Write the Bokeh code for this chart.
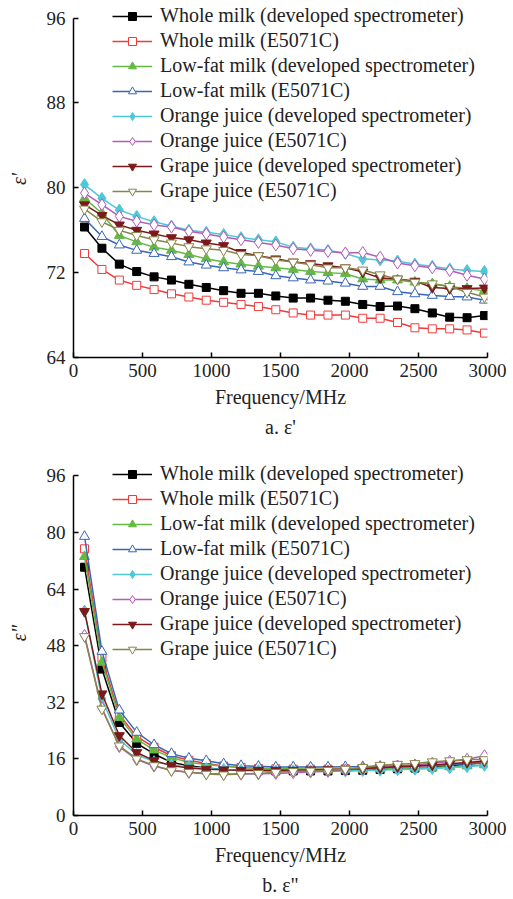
from bokeh.plotting import figure
from bokeh.layouts import column
from bokeh.models import Legend, LegendItem, Title, FixedTicker, Range1d
from bokeh.embed import file_html
from bokeh.resources import INLINE

freq = [80, 206, 332, 458, 584, 710, 836, 962, 1088, 1214, 1340, 1466,
        1592, 1718, 1844, 1970, 2096, 2222, 2348, 2474, 2600, 2726, 2852, 2978]

names = ["Whole milk (developed spectrometer)", "Whole milk (E5071C)",
         "Low-fat milk (developed spectrometer)", "Low-fat milk (E5071C)",
         "Orange juice (developed spectrometer)", "Orange juice (E5071C)",
         "Grape juice (developed spectrometer)", "Grape juice (E5071C)"]

# a. epsilon'
eps1_whole_dev = [76.3, 74.3, 72.8, 72.1, 71.6, 71.3, 70.9, 70.6, 70.3, 70.05, 70.05, 69.8,
                  69.6, 69.6, 69.4, 69.3, 69.0, 68.8, 68.85, 68.6, 68.2, 67.8, 67.75, 67.95]
eps1_whole_e = [73.8, 72.3, 71.3, 70.8, 70.4, 70.0, 69.7, 69.4, 69.2, 69.0, 68.8, 68.5,
                68.2, 68.0, 68.0, 68.0, 67.7, 67.7, 67.3, 66.8, 66.7, 66.7, 66.6, 66.3]
eps1_low_dev = [79.0, 77.6, 75.5, 74.9, 74.4, 74.1, 73.7, 73.3, 73.0, 72.8, 72.6, 72.45,
                72.3, 72.1, 72.0, 71.9, 71.4, 71.3, 71.3, 71.1, 70.95, 70.7, 70.5, 70.3]
eps1_low_e = [77.1, 75.4, 74.6, 74.1, 73.8, 73.5, 73.0, 72.7, 72.45, 72.25, 72.1, 71.7,
              71.5, 71.3, 71.2, 71.0, 70.7, 70.7, 70.2, 70.0, 69.85, 69.75, 69.7, 69.4]
eps1_orange_dev = [80.3, 79.0, 77.9, 77.3, 76.8, 76.4, 76.0, 75.8, 75.6, 75.3, 75.1, 74.9,
                   74.4, 74.25, 74.1, 73.8, 73.3, 73.2, 73.1, 72.8, 72.6, 72.35, 72.2, 72.1]
eps1_orange_e = [79.5, 78.4, 77.3, 76.85, 76.5, 76.3, 75.9, 75.65, 75.35, 75.1, 74.85, 74.6,
                 74.25, 74.1, 74.0, 73.85, 73.9, 73.45, 72.9, 72.65, 72.45, 72.2, 71.75, 71.4]
eps1_grape_dev = [78.4, 77.4, 76.5, 76.0, 75.65, 75.3, 75.1, 74.8, 74.55, 73.9, 73.6, 73.3,
                  73.0, 72.85, 72.65, 72.45, 72.05, 71.5, 71.4, 71.2, 70.6, 70.5, 70.5, 70.55]
eps1_grape_e = [78.0, 76.8, 76.0, 75.5, 75.1, 74.8, 74.45, 74.25, 74.1, 73.7, 73.6, 73.2,
                73.0, 72.75, 72.45, 72.45, 72.25, 71.8, 71.4, 71.1, 70.95, 70.7, 70.15, 69.7]

# b. epsilon''
eps2_whole_dev = [70.2, 41.4, 26.3, 20.4, 17.4, 15.0, 14.1, 13.4, 13.0, 12.8, 12.7, 12.6,
                  12.6, 12.6, 12.6, 12.7, 12.8, 13.0, 13.2, 13.4, 13.7, 14.1, 14.5, 15.0]
eps2_whole_e = [75.4, 44.5, 28.5, 22.3, 19.3, 16.9, 15.6, 14.7, 14.0, 13.6, 13.3, 13.2,
                13.1, 13.1, 13.1, 13.2, 13.3, 13.5, 13.7, 13.9, 14.2, 14.5, 14.8, 15.0]
eps2_low_dev = [73.2, 43.3, 27.7, 21.6, 18.5, 16.4, 15.0, 14.4, 13.9, 13.6, 13.4, 13.3,
                13.2, 13.1, 13.1, 13.1, 13.1, 13.2, 13.3, 13.4, 13.6, 13.8, 14.0, 14.3]
eps2_low_e = [78.9, 46.4, 29.8, 23.5, 20.0, 17.5, 16.2, 15.5, 14.6, 14.1, 13.9, 13.7,
              13.7, 13.7, 13.7, 13.8, 13.8, 13.9, 14.0, 14.1, 14.2, 14.4, 14.6, 14.8]
eps2_orange_dev = [57.8, 33.0, 21.5, 17.2, 15.2, 14.3, 13.7, 13.3, 13.0, 12.8, 12.7, 12.6,
                   12.6, 12.6, 12.6, 12.6, 12.7, 12.8, 13.0, 13.1, 13.3, 13.5, 13.8, 14.2]
eps2_orange_e = [50.9, 30.4, 19.5, 15.8, 14.0, 12.8, 12.2, 11.9, 11.7, 11.7, 11.8, 11.9,
                 12.1, 12.3, 12.5, 12.9, 13.3, 13.7, 14.0, 14.3, 14.8, 15.3, 15.9, 16.9]
eps2_grape_dev = [57.7, 34.4, 22.6, 17.8, 15.5, 14.1, 13.4, 13.1, 12.9, 12.8, 12.8, 12.8,
                  12.8, 12.9, 13.0, 13.1, 13.3, 13.5, 13.8, 14.0, 14.3, 14.6, 15.0, 15.4]
eps2_grape_e = [50.6, 30.1, 19.7, 16.0, 14.1, 12.7, 12.2, 11.7, 11.5, 11.7, 11.9, 12.2,
                12.5, 12.6, 12.8, 13.1, 13.6, 14.2, 14.5, 14.7, 15.2, 15.5, 15.8, 15.8]

x_ticks = [0, 500, 1000, 1500, 2000, 2500, 3000]
y1_ticks = [64, 72, 80, 88, 96]
y2_ticks = [0, 16, 32, 48, 64, 80, 96]

series1 = [eps1_whole_dev, eps1_whole_e, eps1_low_dev, eps1_low_e,
           eps1_orange_dev, eps1_orange_e, eps1_grape_dev, eps1_grape_e]
series2 = [eps2_whole_dev, eps2_whole_e, eps2_low_dev, eps2_low_e,
           eps2_orange_dev, eps2_orange_e, eps2_grape_dev, eps2_grape_e]

# style: (line color, marker, filled, size)
styles = [("#000000", "square", True, 8),
          ("#f23a3a", "square", False, 8),
          ("#66b846", "triangle", True, 10),
          ("#3a66b8", "triangle", False, 10),
          ("#4ec8d8", "diamond", True, 12),
          ("#b05cb8", "diamond", False, 12),
          ("#7a1a1a", "inverted_triangle", True, 10),
          ("#86864a", "inverted_triangle", False, 10)]

FONT = "'Liberation Serif', 'Times New Roman', serif"


def make_fig(series, y_ticks, y_lo, y_top, y_hi, ylabel, caption, height, bottom_border, legend_y):
    p = figure(width=513, height=height, output_backend="svg", toolbar_location=None,
               x_range=Range1d(0, 3000), y_range=Range1d(y_lo, y_hi),
               min_border_left=73, min_border_right=26,
               min_border_top=0, min_border_bottom=bottom_border)
    p.outline_line_color = None
    p.grid.visible = False
    p.background_fill_color = "white"
    p.border_fill_color = "white"
    items = []
    for vals, name, (col, mk, filled, sz) in zip(series, names, styles):
        lr = p.line(freq, vals, line_color=col, line_width=1.5)
        sr = p.scatter(freq, vals, marker=mk, size=sz, line_color=col, line_width=1,
                       fill_color=col if filled else "white")
        items.append(LegendItem(label=name, renderers=[lr, sr]))
    for ax in (p.xaxis[0], p.yaxis[0]):
        ax.major_tick_in = 5
        ax.major_tick_out = 0
        ax.minor_tick_line_color = None
        ax.axis_line_width = 1.5
        ax.major_tick_line_width = 1.5
        ax.axis_line_color = "black"
        ax.major_tick_line_color = "black"
        ax.major_label_text_font = FONT
        ax.major_label_text_font_size = "19px"
        ax.major_label_text_color = "#222222"
        ax.axis_label_text_font = FONT
        ax.axis_label_text_font_size = "20px"
        ax.axis_label_text_color = "#222222"
    p.yaxis.bounds = (y_lo, y_top)
    p.xaxis.ticker = FixedTicker(ticks=x_ticks)
    p.yaxis.ticker = FixedTicker(ticks=y_ticks)
    p.xaxis.axis_label = "Frequency/MHz"
    p.xaxis.axis_label_text_font_style = "normal"
    p.xaxis.major_label_standoff = 6
    p.xaxis.axis_label_standoff = 6
    p.yaxis.axis_label = ylabel
    p.yaxis.axis_label_text_font_style = "italic"
    p.yaxis.major_label_standoff = 8
    p.yaxis.axis_label_standoff = 14

    legend = Legend(items=items, location=(39, legend_y), padding=0, margin=0,
                    border_line_color=None, background_fill_alpha=0,
                    glyph_width=40, glyph_height=20, label_height=20, spacing=2,
                    label_text_font=FONT, label_text_font_size="20px",
                    label_text_color="#222222", label_standoff=8)
    p.add_layout(legend, "center")

    p.add_layout(Title(text=caption, align="center", text_font=FONT, text_font_size="20px",
                       text_font_style="normal", text_color="#222222", standoff=6), "below")
    return p


p1 = make_fig(series1, y1_ticks, 64, 96, 97.65, "\u03b5'", "a. \u03b5'", 450, 93, 155)
p2 = make_fig(series2, y2_ticks, 0, 96, 103.2, "\u03b5\"", "b. \u03b5\"", 449, 84, 155)

layout = column(p1, p2, spacing=0)
open("out.html", "w").write(file_html(layout, INLINE))
